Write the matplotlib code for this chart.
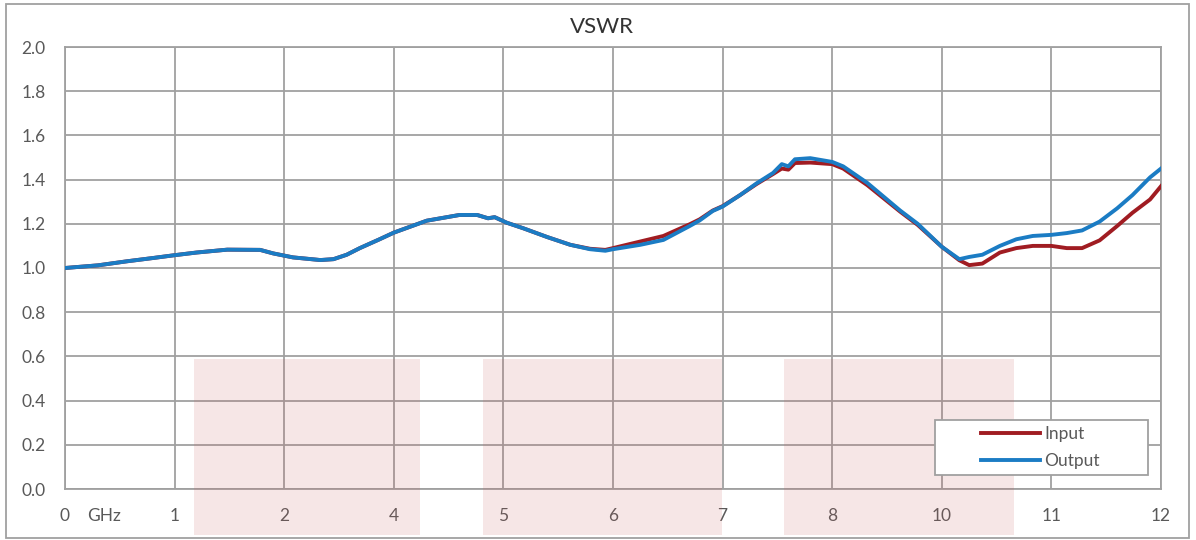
import matplotlib
matplotlib.use("Agg")
import matplotlib.pyplot as plt
from matplotlib.patches import Rectangle
from matplotlib.lines import Line2D

plt.rcParams['font.family'] = ['Lato', 'DejaVu Sans']

# tick positions are evenly spaced, labels are as printed on the chart
X_TICK_LABELS = ["0", "1", "2", "4", "5", "6", "7", "8", "10", "11", "12"]
Y_TICKS = [0.0, 0.2, 0.4, 0.6, 0.8, 1.0, 1.2, 1.4, 1.6, 1.8, 2.0]

# sample positions (in tick-slot units, 0..10)
X = [0, 0.3, 0.56, 0.8, 1.0, 1.2, 1.48, 1.78, 1.9, 2.08,
     2.33, 2.45, 2.57, 2.69, 2.87, 3.0, 3.15, 3.3, 3.6, 3.76,
     3.86, 3.92, 4.03, 4.18, 4.4, 4.61, 4.79, 4.93, 5.0, 5.25,
     5.46, 5.7, 5.79, 5.91, 6.0, 6.16, 6.31, 6.46, 6.54, 6.6,
     6.66, 6.8, 7.0, 7.1, 7.32, 7.62, 7.78, 8.0, 8.16, 8.25,
     8.37, 8.53, 8.68, 8.83, 9.0, 9.14, 9.28, 9.44, 9.6, 9.74,
     9.9, 10.0]

VSWR_INPUT = [1.00, 1.012, 1.03, 1.045, 1.058, 1.07, 1.083, 1.082, 1.066, 1.048,
              1.036, 1.04, 1.06, 1.09, 1.13, 1.16, 1.187, 1.214, 1.24, 1.24,
              1.225, 1.23, 1.205, 1.18, 1.14, 1.105, 1.087, 1.082, 1.09, 1.12,
              1.145, 1.198, 1.22, 1.26, 1.28, 1.33, 1.38, 1.425, 1.45, 1.445,
              1.475, 1.477, 1.47, 1.45, 1.375, 1.255, 1.195, 1.096, 1.035, 1.013,
              1.02, 1.07, 1.09, 1.10, 1.10, 1.09, 1.09, 1.125, 1.19, 1.25,
              1.31, 1.37]

VSWR_OUTPUT = [1.00, 1.012, 1.03, 1.045, 1.058, 1.07, 1.083, 1.082, 1.066, 1.048,
               1.036, 1.04, 1.06, 1.09, 1.13, 1.16, 1.187, 1.214, 1.24, 1.24,
               1.225, 1.23, 1.205, 1.18, 1.14, 1.105, 1.085, 1.078, 1.085, 1.105,
               1.127, 1.19, 1.215, 1.258, 1.278, 1.33, 1.383, 1.43, 1.47, 1.46,
               1.492, 1.497, 1.48, 1.46, 1.385, 1.26, 1.20, 1.096, 1.04, 1.05,
               1.06, 1.10, 1.13, 1.145, 1.15, 1.158, 1.17, 1.21, 1.27, 1.33,
               1.41, 1.45]

# shaded bands (start, end) in tick-slot units
BANDS = [(1.18, 3.24), (3.81, 5.99), (6.56, 8.66)]

GRID = '#a0a0a0'
TXT = '#595959'

fig = plt.figure(figsize=(11.96, 5.4), dpi=100)
ax = fig.add_axes([65 / 1196, 51 / 540, 1096 / 1196, 442 / 540])

ax.plot(X, VSWR_INPUT, color='#a01c22', lw=2.8, zorder=3, label='Input')
ax.plot(X, VSWR_OUTPUT, color='#1b7cc4', lw=2.8, zorder=4, label='Output')

ax.set_xlim(0, 10)
ax.set_ylim(0, 2.0)
ax.set_xticks(range(len(X_TICK_LABELS)))
ax.set_xticklabels(X_TICK_LABELS)
ax.set_yticks(Y_TICKS)
ax.set_yticklabels([f"{v:.1f}" for v in Y_TICKS])
ax.tick_params(axis='both', length=0, labelsize=12.5, labelcolor=TXT)
ax.tick_params(axis='x', pad=14)
ax.tick_params(axis='y', pad=14)
ax.grid(True, color=GRID, lw=1.3)
ax.set_axisbelow(True)
for s in ax.spines.values():
    s.set_color(GRID)
    s.set_linewidth(1.3)

ax.text(0.356, -0.061, 'GHz', transform=ax.get_xaxis_transform(),
        ha='center', va='center', fontsize=12.5, color=TXT)

# legend box (white, hides the grid) with legend entries inside
box = Rectangle((935 / 1196, 1 - 475 / 540), 213 / 1196, 55 / 540,
                transform=fig.transFigure, facecolor='white', edgecolor=GRID,
                lw=1.3, zorder=2)
fig.add_artist(box)
handles = [Line2D([0], [0], color='#a01c22', lw=2.8),
           Line2D([0], [0], color='#1b7cc4', lw=2.8)]
leg = fig.legend(handles, ['Input', 'Output'], loc='center left',
                 bbox_to_anchor=(981 / 1196, 1 - 447.5 / 540), frameon=False,
                 borderpad=0, borderaxespad=0, handlelength=3.4,
                 handletextpad=0.25, labelspacing=0.68, fontsize=12.5)
for t in leg.get_texts():
    t.set_color(TXT)
leg.set_zorder(3)

for x0, x1 in BANDS:
    ax.add_patch(Rectangle((x0, -0.21), x1 - x0, 0.80, facecolor='#c45c5c',
                           alpha=0.15, edgecolor='none', clip_on=False, zorder=6))

fig.text(0.503, 1 - 26.7 / 540, 'VSWR', ha='center', va='center',
         fontsize=16, color='#333333')

fig.add_artist(Rectangle((6 / 1196, 2 / 540), 1183 / 1196, 534 / 540,
                         transform=fig.transFigure, fill=False,
                         edgecolor=GRID, lw=1.3))

fig.savefig('out.png', dpi=100)
